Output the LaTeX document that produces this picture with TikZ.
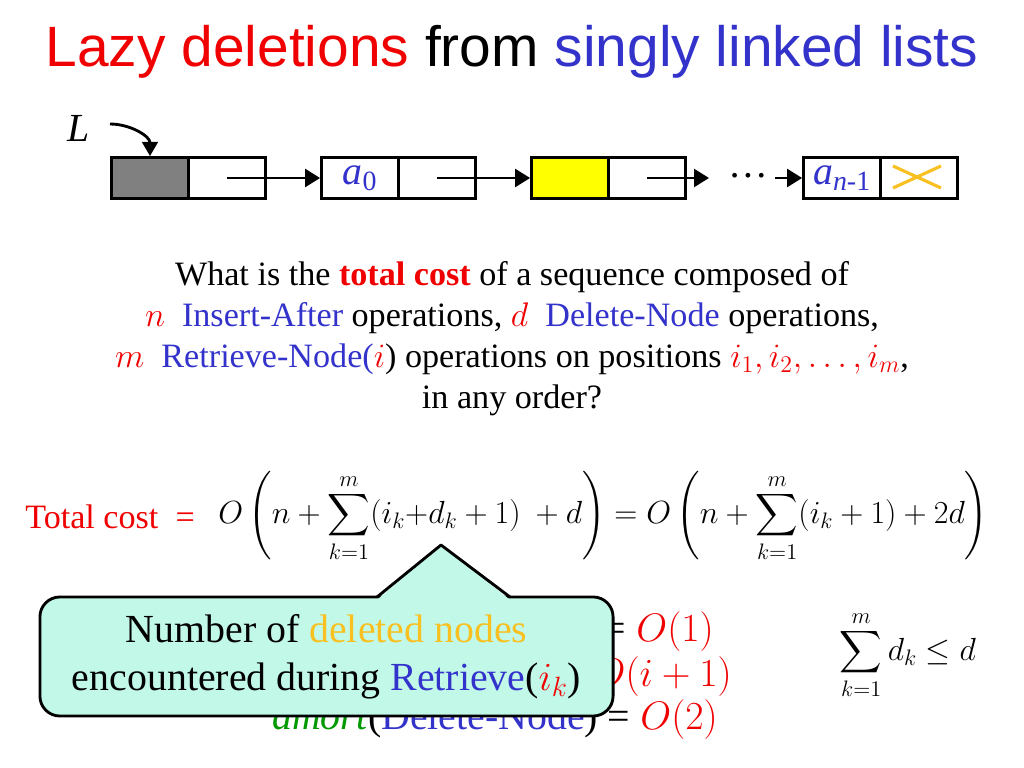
\RequirePackage{fix-cm}
\documentclass[tikz,border=0pt]{standalone}
\usepackage{amsmath}
\usepackage{fontspec}
\setmainfont{Liberation Serif}
\newfontfamily\arialfont{Liberation Sans}
\usetikzlibrary{arrows.meta}
\definecolor{ttred}{HTML}{F00000}
\definecolor{ttblue}{HTML}{3333CC}
\definecolor{ttgold}{HTML}{F8C020}
\definecolor{ttgreen}{HTML}{009900}
\definecolor{ttmint}{HTML}{C2F8E8}
\definecolor{ttgray}{HTML}{808080}
\definecolor{ttyellow}{HTML}{FFFF00}
\newcommand\fsz[2]{\fontsize{#1}{#2}\selectfont}
\begin{document}
\begin{tikzpicture}[x=0.703125pt,y=-0.703125pt,
  cell/.style={draw, line width=2pt, minimum width=54.1pt, minimum height=28.8pt, inner sep=0pt, font=\fsz{28}{33}},
  ptr/.style={line width=2pt, -{Triangle[length=10.5pt,width=12.5pt]}},
  txt/.style={font=\fsz{24}{29}, inner sep=0pt},
  mth/.style={font=\fsz{22.5}{27}, inner sep=0pt},
  big/.style={font=\fsz{28}{34}, inner sep=0pt},
  callout/.style={draw, line width=2pt, fill=ttmint}]
\useasboundingbox[fill=white] (0,0) rectangle (1024,768);

% title
\node[font=\arialfont\fsz{40}{48}, inner sep=0pt] (title) at (512,52)
  {\textcolor{ttred}{Lazy deletions} from \textcolor{ttblue}{singly linked lists}};

% list
\node[font=\fsz{28}{33}\itshape, inner sep=0pt] (L) at (79,128) {L};
\coordinate (Ls) at (110,124);
\node[cell, fill=ttgray] (h1) at (150,178) {};
\node[cell] (h2) at (227,178) {};
\node[cell] (a1) at (360,178) {\textcolor{ttblue}{\textit{a}\textsubscript{0}}};
\node[cell] (a2) at (437,178) {};
\node[cell, fill=ttyellow] (y1) at (570,178) {};
\node[cell] (y2) at (647,178) {};
\coordinate (yend) at (709,178);
\node[font=\fsz{28}{33}, inner sep=0pt] (dots) at (748,176) {\dots};
\coordinate (dstart) at (775,178);
\node[cell] (n1) at (842,178) {\textcolor{ttblue}{\textit{a}\textsubscript{\textit{n}-1}}};
\node[cell] (n2) at (919,178) {};
\draw[ttgold, line width=2.2pt] (893,166) -- (941,188) (893,188) -- (941,166);

\draw[line width=2pt, -{Triangle[length=10pt,width=11pt]}] (Ls) to[out=0,in=90] (h1.north);
\draw[ptr] (h2.center) -- (a1.west);
\draw[ptr] (a2.center) -- (y1.west);
\draw[ptr] (y2.center) -- (yend);
\draw[ptr] (dstart) -- (n1.west);

% question
\node[txt] (q1) at (512,277) {What is the \textbf{\textcolor{ttred}{total cost}} of a sequence composed of};
\node[txt] (q2) at (512,318) {\textcolor{ttred}{$n$}\ \ \textcolor{ttblue}{Insert-After} operations, \textcolor{ttred}{$d$}\ \ \textcolor{ttblue}{Delete-Node} operations,};
\node[txt] (q3) at (512,359) {\textcolor{ttred}{$m$}\ \ \textcolor{ttblue}{Retrieve-Node(}\textcolor{ttred}{$i$}) operations on positions \textcolor{ttred}{$i_1,i_2,\ldots,i_m$},};
\node[txt] (q4) at (512,400) {in any order?};

% total cost
\node[txt, anchor=west] (tc) at (25,517) {\textcolor{ttred}{Total cost\ \ =}};
\node[mth, anchor=west] (eq) at (218,517) {$\displaystyle O\left(n+\sum_{k=1}^{m}(i_k{+}d_k+1)\ +d\right)=O\left(n+\sum_{k=1}^{m}(i_k+1)+2d\right)$};

% amortized lines (partly hidden)
\node[big, anchor=east] (am1) at (714,632) {= \textcolor{ttred}{$O(1)$}};
\node[big, anchor=east] (am2) at (732,677) {\textcolor{ttred}{$O(i+1)$}};
\node[big, anchor=east] (am3) at (718,720) {\textcolor{ttgreen}{\textit{amort}}(\textcolor{ttblue}{Delete-Node}) = \textcolor{ttred}{$O(2)$}};

% right sum
\node[mth] (rs) at (908,655) {$\displaystyle\sum_{k=1}^{m} d_k \le d$};

% callout
\node[callout, rounded corners=14pt, minimum width=403pt, minimum height=83.7pt, inner sep=0pt,
  align=center, font=\fsz{28}{34}] (call) at (326.5,656.5)
  {Number of \textcolor{ttgold}{deleted nodes}\\encountered during \textcolor{ttblue}{Retrieve}(\textcolor{ttred}{$i_k$})};
\coordinate (tip) at (441,545);
\fill[ttmint] (378,599) -- (tip) -- (509,599) -- cycle;
\draw[line width=2pt, line join=round] (377,597) -- (tip) -- (510,597);
\end{tikzpicture}
\end{document}
